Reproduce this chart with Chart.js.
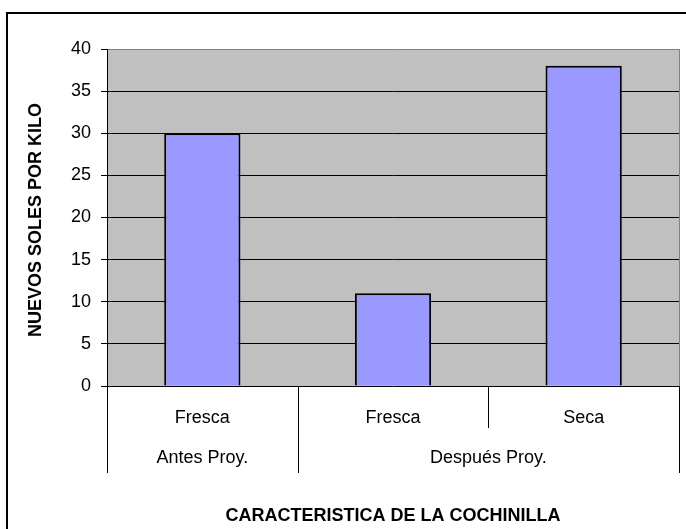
<!DOCTYPE html>
<html>
<head>
<meta charset="utf-8">
<title>Precio de la cochinilla</title>
<script src="https://cdn.jsdelivr.net/npm/chart.js@4/dist/chart.umd.min.js"></script>
<style>
  body { margin: 0; background: #fff; }
  canvas { display: block; }
</style>
</head>
<body>
<canvas id="chart" width="686" height="529"></canvas>
<script>
// data
const categories = ["Fresca", "Fresca", "Seca"];
const groupLabels = ["Antes Proy.", "Después Proy."];
const groupSizes = [1, 2];
const precios = [30, 11, 38];
const yTicks = [0, 5, 10, 15, 20, 25, 30, 35, 40];

const FONT = "'Liberation Sans', Arial, sans-serif";

// plot background, frame, category groups and axis titles
const excelLook = {
  id: "excelLook",
  beforeDraw(chart) {
    const { ctx, chartArea: a } = chart;
    ctx.save();
    ctx.fillStyle = "#fff";
    ctx.fillRect(0, 0, chart.width, chart.height);
    ctx.strokeStyle = "#000";
    ctx.lineWidth = 2;
    ctx.strokeRect(7, 13, chart.width + 20, chart.height + 20);
    ctx.fillStyle = "#c0c0c0";
    ctx.fillRect(a.left, a.top, a.right - a.left, a.bottom - a.top);
    ctx.restore();
  },
  afterDraw(chart) {
    const { ctx, chartArea: a } = chart;
    const x = chart.scales.x;
    ctx.save();

    // right edge of the plot area
    ctx.strokeStyle = "#808080";
    ctx.lineWidth = 1;
    ctx.beginPath();
    ctx.moveTo(a.right + 0.5, a.top);
    ctx.lineTo(a.right + 0.5, a.bottom);
    ctx.stroke();

    // separators below the axis
    ctx.strokeStyle = "#000";
    const groupEnds = [-0.5];
    let idx = -0.5;
    groupSizes.forEach((n) => { idx += n; groupEnds.push(idx); });
    for (let i = -0.5; i <= categories.length - 0.5; i++) {
      const px = Math.round(x.getPixelForValue(i)) + 0.5;
      const long = groupEnds.includes(i);
      ctx.beginPath();
      ctx.moveTo(px, a.bottom);
      ctx.lineTo(px, long ? a.bottom + 87 : a.bottom + 42);
      ctx.stroke();
    }

    // group labels
    ctx.fillStyle = "#000";
    ctx.font = "18px " + FONT;
    ctx.textAlign = "center";
    ctx.textBaseline = "middle";
    groupLabels.forEach((g, k) => {
      const x0 = x.getPixelForValue(groupEnds[k]);
      const x1 = x.getPixelForValue(groupEnds[k + 1]);
      ctx.fillText(g, (x0 + x1) / 2, a.bottom + 72);
    });

    // axis titles
    ctx.font = "bold 18px " + FONT;
    ctx.fillText("CARACTERISTICA DE LA COCHINILLA", (a.left + a.right) / 2, 516);
    ctx.translate(36, 220);
    ctx.rotate(-Math.PI / 2);
    ctx.fillText("NUEVOS SOLES POR KILO", 0, 0);
    ctx.restore();
  }
};

const chart = new Chart(document.getElementById("chart"), {
  type: "bar",
  data: {
    labels: categories,
    datasets: [{
      data: precios,
      backgroundColor: "#9999ff",
      borderColor: "#000",
      borderWidth: 2,
      categoryPercentage: 1,
      barPercentage: 0.4
    }]
  },
  options: {
    responsive: false,
    animation: false,
    layout: { padding: { top: 49, right: 7, left: 0, bottom: 0 } },
    plugins: {
      legend: { display: false },
      tooltip: { enabled: false }
    },
    scales: {
      x: {
        grid: { display: false },
        border: { display: false },
        ticks: {
          color: "#000",
          padding: 13,
          font: { family: FONT, size: 18 }
        },
        afterFit(scale) { scale.height = 143; }
      },
      y: {
        min: 0,
        max: 40,
        afterBuildTicks(scale) {
          scale.ticks = yTicks.map((v) => ({ value: v }));
        },
        grid: {
          color: (c) => (c.tick && c.tick.value === 40 ? "#808080" : "#000"),
          tickColor: "#000",
          tickLength: 6,
          lineWidth: 1
        },
        border: { color: "#000", width: 1 },
        ticks: {
          color: "#000",
          padding: 10,
          font: { family: FONT, size: 18 }
        },
        afterFit(scale) { scale.width = 107; }
      }
    }
  },
  plugins: [excelLook]
});
</script>
</body>
</html>
